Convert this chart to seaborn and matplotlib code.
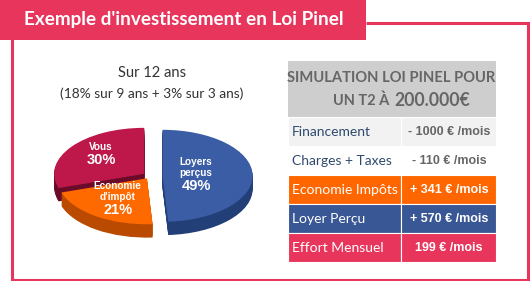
import numpy as np
import matplotlib
matplotlib.use("Agg")
import matplotlib.pyplot as plt
from matplotlib.patches import Rectangle
import seaborn as sns

# ---------------- data ----------------
chart_title = "Exemple d'investissement en Loi Pinel"
pie_title = "Sur 12 ans"
pie_subtitle = "(18% sur 9 ans + 3% sur 3 ans)"
slice_names = ["Vous", "Economie\nd'impôt", "Loyers\nperçus"]
slice_pcts = [30, 21, 49]
slice_colors = ["#BE1749", "#FF6A00", "#3B5DA6"]
side_colors = ["#6A0B2A", "#B94A00", "#233F78"]
explode = [0.08, 0.06, 0.14]

header_line1 = "SIMULATION LOI PINEL POUR"
header_line2a = "UN T2 À"
header_line2b = "200.000€"
row_labels = ["Financement", "Charges + Taxes", "Economie Impôts", "Loyer Perçu", "Effort Mensuel"]
row_values = ["- 1000 € /mois", "- 110 € /mois", "+ 341 € /mois", "+ 570 € /mois", "199 € /mois"]
row_bg = ["#F2F2F2", "#FFFFFF", "#FF6600", "#3A5795", "#E8355C"]
row_label_color = ["#2F4A6D", "#2F4A6D", "white", "white", "white"]
row_value_color = ["#666666", "#666666", "white", "white", "white"]

RED = "#E8355C"

sns.set_theme(style="white")
plt.rcParams['font.family'] = ['Lato', 'DejaVu Sans']

W, H = 530, 281
fig = plt.figure(figsize=(W / 100, H / 100), dpi=100)
fig.patch.set_facecolor("white")

# -------- background / layout layer (pixel coordinates) --------
bg = fig.add_axes([0, 0, 1, 1])
bg.set_xlim(0, W)
bg.set_ylim(H, 0)
bg.axis("off")

# frame
bg.plot([11.5, 11.5, 527.5, 527.5, 366], [39, 279.5, 279.5, 23, 23],
        color=RED, lw=2.2, solid_joinstyle="miter", solid_capstyle="butt")
# title box
bg.add_patch(Rectangle((0, 0), 366, 39.5, color=RED, lw=0))
bg.text(183.5, 19.5, chart_title, color="white", fontsize=13.6, fontweight="bold",
        ha="center", va="center", family="Lato")

# pie titles
bg.text(152, 73, pie_title, color="#333333", fontsize=10.6, ha="center", va="center")
bg.text(152, 93.5, pie_subtitle, color="#333333", fontsize=9.9, ha="center", va="center")

# table
tx0, tsplit, tx1 = 288, 401, 496
hy0, hy1 = 61, 117
rh = 29
bg.add_patch(Rectangle((tx0, hy0), tx1 - tx0, hy1 - hy0, color="#CECECE", lw=0))
bg.text(391, 78.5, header_line1, color="#666666", fontsize=10.6,
        fontweight="bold", ha="center", va="center")
bg.text(389, 100.5, header_line2a, color="#666666", fontsize=10.5,
        fontweight="bold", ha="right", va="center")
bg.text(394, 100, header_line2b, color="#666666", fontsize=12.7,
        fontweight="bold", ha="left", va="center")

for i, (lab, val) in enumerate(zip(row_labels, row_values)):
    y0 = hy1 + i * rh
    bg.add_patch(Rectangle((tx0, y0), tsplit - tx0, rh, facecolor=row_bg[i],
                           edgecolor="white", lw=0.8))
    bg.add_patch(Rectangle((tsplit, y0), tx1 - tsplit, rh, facecolor=row_bg[i],
                           edgecolor="white", lw=0.8))
    bg.text(tx0 + 4, y0 + rh / 2 + 0.5, lab, color=row_label_color[i], fontsize=10,
            ha="left", va="center")
    bg.text((tsplit + tx1) / 2 + 0.5, y0 + rh / 2 + 0.5, val, color=row_value_color[i],
            fontsize=9, fontweight="bold", ha="center", va="center",
            family=["Liberation Sans", "DejaVu Sans"])

# -------- 3D-like pie --------
rx, ry = 90.0, 46.0          # pixel radii of the ellipse
cx, cy = 150.0, 176.0        # pixel centre
xl, yl = (-1.25, 1.25), (-1.6, 1.25)
left = (cx + xl[0] * rx) / W
width = (xl[1] - xl[0]) * rx / W
bottom = 1 - (cy - yl[0] * ry) / H
height = (yl[1] - yl[0]) * ry / H
ax = fig.add_axes([left, bottom, width, height])
ax.patch.set_alpha(0)

depth = 0.29
for d in np.linspace(depth, 0.0, 16)[:-1]:
    ax.pie(slice_pcts, colors=side_colors, startangle=90, counterclock=True,
           explode=explode, center=(0, -d), radius=1,
           wedgeprops=dict(linewidth=0))
wedges, _ = ax.pie(slice_pcts, colors=slice_colors, startangle=90, counterclock=True,
                   explode=explode, center=(0, 0), radius=1,
                   wedgeprops=dict(linewidth=0))
ax.set_aspect("auto")
ax.set_xlim(*xl)
ax.set_ylim(*yl)
ax.axis("off")

label_r = [0.6, 0.62, 0.42]
label_shift = [(0.5, 2.0), (1.5, -2.0), (-3, -4)]   # fine offsets in points
for w, name, pct, r, sh in zip(wedges, slice_names, slice_pcts, label_r, label_shift):
    ang = np.deg2rad((w.theta1 + w.theta2) / 2)
    px = w.center[0] + r * np.cos(ang)
    py = w.center[1] + r * np.sin(ang)
    ax.annotate(name, (px, py), xytext=(sh[0], sh[1] + 2.0), textcoords="offset points",
                ha="center", va="bottom", color="white", fontsize=7.2, fontweight="bold",
                family=["Liberation Sans", "DejaVu Sans"], linespacing=1.15)
    ax.annotate(f"{pct}%", (px, py), xytext=(sh[0], sh[1] + 1.0), textcoords="offset points",
                ha="center", va="top", color="white", fontsize=10.5, fontweight="bold",
                family=["Liberation Sans", "DejaVu Sans"])

fig.savefig("out.png", dpi=100, facecolor="white")
